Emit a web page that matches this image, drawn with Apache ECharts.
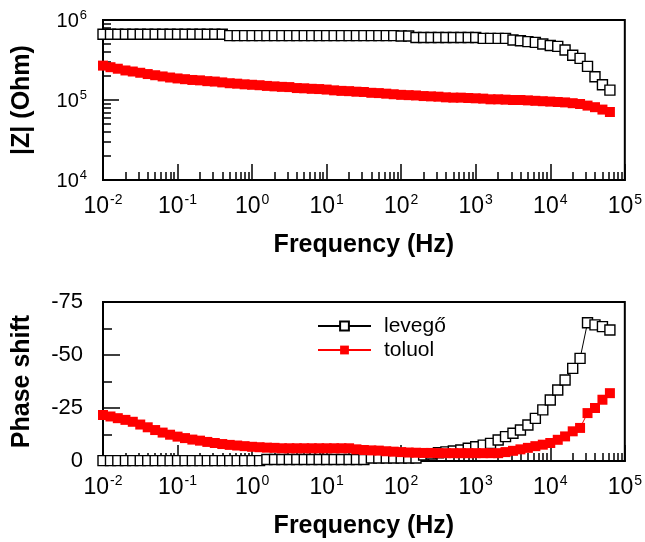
<!DOCTYPE html>
<html>
<head>
<meta charset="utf-8">
<script src="https://cdn.jsdelivr.net/npm/echarts@6/dist/echarts.min.js"></script>
<style>
html,body{margin:0;padding:0;background:#fff;}
#chart{width:645px;height:542px;}
</style>
</head>
<body>
<div id="chart"></div>
<script>
// Frequency points (Hz)
var freq = [
  0.01,0.0126,0.0158,0.02,0.0251,0.0316,0.0398,0.0501,0.0631,0.0794,
  0.1,0.126,0.158,0.2,0.251,0.316,0.398,0.501,0.631,0.794,
  1,1.26,1.58,2,2.51,3.16,3.98,5.01,6.31,7.94,
  10,12.6,15.8,20,25.1,31.6,39.8,50.1,63.1,79.4,
  100,126,158,200,251,316,398,501,631,794,
  1000,1260,1580,2000,2510,3160,3980,5010,6310,7940,
  10000,12600,15800,20000,25100,31600,39800,50100,63100
];
// |Z| (Ohm)
var zLevego = [
  664000,664000,664000,664000,664000,664000,664000,664000,664000,664000,
  664000,664000,664000,664000,664000,664000,664000,637000,637000,637000,
  637000,637000,637000,637000,637000,637000,637000,637000,637000,637000,
  637000,637000,637000,637000,637000,637000,637000,637000,637000,637000,
  631000,631000,603000,603000,603000,603000,603000,603000,603000,603000,
  603000,589000,589000,589000,589000,562000,550000,537000,525000,501000,
  479000,468000,422000,363000,331000,263000,195000,155000,133000
];
var zToluol = [
  269000,257000,246000,234000,227000,219000,211000,204000,197000,191000,
  186000,182000,178000,176000,172000,170000,166000,162000,160000,157000,
  155000,153000,150000,148000,146000,145000,141000,140000,138000,137000,
  135000,132000,130000,129000,127000,126000,123000,122000,120000,118000,
  116000,115000,114000,112000,111000,110000,108000,107000,107000,106000,
  105000,104000,102000,102000,101000,100000,100000,98900,97700,96600,
  95500,94400,93300,91200,89100,85100,81300,75900,70800
];
// Phase shift (degrees)
var phLevego = [
  -0.2,-0.2,-0.2,-0.2,-0.2,-0.2,-0.2,-0.2,-0.2,-0.2,
  -0.2,-0.2,-0.2,-0.2,-0.2,-0.2,-0.2,-0.2,-0.2,-0.2,
  -0.2,-0.2,-0.7,-0.7,-0.7,-0.7,-0.7,-0.7,-0.7,-0.7,
  -0.7,-0.7,-0.7,-0.7,-0.7,-0.7,-1.4,-1.4,-1.4,-1.4,
  -1.4,-1.4,-1.4,-2.8,-3.3,-3.9,-4.3,-4.7,-5.2,-6.0,
  -6.7,-7.5,-8.3,-9.9,-11.5,-13.1,-14.6,-17.0,-20.1,-24.1,
  -28.8,-33.5,-38.2,-43.7,-48.4,-65.2,-64.2,-63.4,-61.8
];
var phToluol = [
  -21.7,-21.0,-20.2,-19.4,-18.5,-17.2,-15.9,-14.6,-13.4,-12.4,
  -11.5,-10.8,-10.1,-9.6,-9.0,-8.5,-8.0,-7.6,-7.3,-7.0,
  -6.7,-6.5,-6.3,-6.2,-6.0,-6.0,-6.0,-6.0,-6.0,-6.0,
  -6.0,-6.0,-6.0,-6.0,-5.5,-5.2,-5.0,-4.9,-4.6,-4.4,
  -4.2,-4.0,-3.9,-3.8,-3.8,-3.7,-3.7,-3.7,-3.7,-3.7,
  -3.7,-3.7,-3.7,-3.7,-4.2,-4.8,-5.5,-6.2,-7.0,-7.7,
  -8.5,-10.0,-11.6,-14.0,-15.6,-22.6,-25.0,-28.9,-32.0
];
// Tick values
var freqMajor = [0.01,0.1,1,10,100,1000,10000,100000];
var zMajor = [10000,100000,1000000];
var phaseTicks = [-75,-50,-25,0];

function minorLog(lo, hi) {
  var out = [];
  for (var d = lo; d < hi; d++) {
    for (var m = 2; m <= 9; m++) out.push(m * Math.pow(10, d));
  }
  return out;
}
var freqMinor = minorLog(-2, 5);
var zMinor = minorLog(4, 6);

var FONT = "'Liberation Sans', Arial, sans-serif";

function powLabel(v) {
  var e = Math.round(Math.log10(v));
  return '{b|10}{s|' + e + '}';
}
var richX = {
  b: {fontSize: 23, fontFamily: FONT, color: '#000', lineHeight: 25, verticalAlign: 'bottom'},
  s: {fontSize: 14, fontFamily: FONT, color: '#000', lineHeight: 25, verticalAlign: 'top', padding: [0, 0, 0, 1]}
};
var richY = {
  b: {fontSize: 20, fontFamily: FONT, color: '#000', lineHeight: 22, verticalAlign: 'bottom'},
  s: {fontSize: 13, fontFamily: FONT, color: '#000', lineHeight: 22, verticalAlign: 'top', padding: [0, 0, 0, 1]}
};

var gridL = 103, gridW = 525;
var SYM = 10;

function freqAxis(gi) {
  return {
    type: 'log', logBase: 10, gridIndex: gi, min: 0.01, max: 100000,
    axisLine: {show: true, lineStyle: {color: '#000', width: 2}},
    axisTick: {show: true, inside: true, length: 16, lineStyle: {color: '#000', width: 1.5}, customValues: freqMajor},
    axisLabel: {show: true, margin: 13, formatter: powLabel, rich: richX, customValues: freqMajor},
    splitLine: {show: false},
    minorTick: {show: false},
    name: 'Frequency (Hz)', nameLocation: 'middle', nameGap: 53,
    nameTextStyle: {fontSize: 25, fontWeight: 'bold', fontFamily: FONT, color: '#000'}
  };
}
function freqMinorAxis(gi) {
  return {
    type: 'log', logBase: 10, gridIndex: gi, min: 0.01, max: 100000, position: 'bottom',
    axisLine: {show: false},
    axisTick: {show: true, inside: true, length: 8, lineStyle: {color: '#000', width: 1.5}, customValues: freqMinor},
    axisLabel: {show: false},
    splitLine: {show: false}
  };
}

var option = {
  animation: false,
  backgroundColor: '#fff',
  grid: [
    {left: gridL, width: gridW, top: 20, height: 160, show: true, borderColor: '#000', borderWidth: 2},
    {left: gridL, width: gridW, top: 302, height: 159, show: true, borderColor: '#000', borderWidth: 2}
  ],
  legend: {
    show: true, orient: 'vertical', left: 317, top: 315, padding: 0,
    itemWidth: 53, itemHeight: 11, itemGap: 2,
    data: ['levegő', 'toluol'],
    textStyle: {fontSize: 21, fontFamily: FONT, color: '#000', lineHeight: 22, padding: [0, 0, 0, 8]}
  },
  xAxis: [freqAxis(0), freqMinorAxis(0), freqAxis(1), freqMinorAxis(1)],
  yAxis: [
    {
      type: 'log', logBase: 10, gridIndex: 0, min: 10000, max: 1000000,
      axisLine: {show: true, lineStyle: {color: '#000', width: 2}},
      axisTick: {show: true, inside: true, length: 16, lineStyle: {color: '#000', width: 1.5}, customValues: zMajor},
      axisLabel: {show: true, margin: 16, formatter: powLabel, rich: richY, customValues: zMajor},
      splitLine: {show: false},
      name: '|Z| (Ohm)', nameLocation: 'middle', nameGap: 68, nameRotate: 90,
      nameTextStyle: {fontSize: 25, fontWeight: 'bold', fontFamily: FONT, color: '#000'}
    },
    {
      type: 'log', logBase: 10, gridIndex: 0, min: 10000, max: 1000000, position: 'left',
      axisLine: {show: false},
      axisTick: {show: true, inside: true, length: 8, lineStyle: {color: '#000', width: 1.5}, customValues: zMinor},
      axisLabel: {show: false},
      splitLine: {show: false}
    },
    {
      type: 'value', gridIndex: 1, min: -75, max: 0, interval: 25, inverse: true,
      axisLine: {show: true, lineStyle: {color: '#000', width: 2}},
      axisTick: {show: true, inside: true, length: 17, lineStyle: {color: '#000', width: 1.5}},
      minorTick: {show: true, splitNumber: 2, length: 9, lineStyle: {color: '#000', width: 1.5}},
      axisLabel: {show: true, margin: 20, fontSize: 22, fontFamily: FONT, color: '#000'},
      splitLine: {show: false},
      minorSplitLine: {show: false},
      name: 'Phase shift', nameLocation: 'middle', nameGap: 68, nameRotate: 90,
      nameTextStyle: {fontSize: 25, fontWeight: 'bold', fontFamily: FONT, color: '#000'}
    }
  ],
  series: [
    {
      name: 'levegő', type: 'line', xAxisIndex: 0, yAxisIndex: 0, clip: false,
      data: freq.map(function (f, i) { return [f, zLevego[i]]; }),
      symbol: 'rect', symbolSize: SYM, showAllSymbol: true,
      lineStyle: {color: '#000', width: 1},
      itemStyle: {color: '#fff', borderColor: '#000', borderWidth: 1.4}
    },
    {
      name: 'toluol', type: 'line', xAxisIndex: 0, yAxisIndex: 0, clip: false,
      data: freq.map(function (f, i) { return [f, zToluol[i]]; }),
      symbol: 'rect', symbolSize: SYM, showAllSymbol: true,
      lineStyle: {color: '#ff0000', width: 1},
      itemStyle: {color: '#ff0000', borderColor: '#ff0000', borderWidth: 0}
    },
    {
      name: 'levegő', type: 'line', xAxisIndex: 2, yAxisIndex: 2, clip: false,
      data: freq.map(function (f, i) { return [f, phLevego[i]]; }),
      symbol: 'rect', symbolSize: SYM, showAllSymbol: true,
      lineStyle: {color: '#000', width: 1},
      itemStyle: {color: '#fff', borderColor: '#000', borderWidth: 1.4}
    },
    {
      name: 'toluol', type: 'line', xAxisIndex: 2, yAxisIndex: 2, clip: false,
      data: freq.map(function (f, i) { return [f, phToluol[i]]; }),
      symbol: 'rect', symbolSize: SYM, showAllSymbol: true,
      lineStyle: {color: '#ff0000', width: 1},
      itemStyle: {color: '#ff0000', borderColor: '#ff0000', borderWidth: 0}
    }
  ]
};
var chart = echarts.init(document.getElementById('chart'), null, {renderer: 'canvas'});
chart.setOption(option);
</script>
</body>
</html>
